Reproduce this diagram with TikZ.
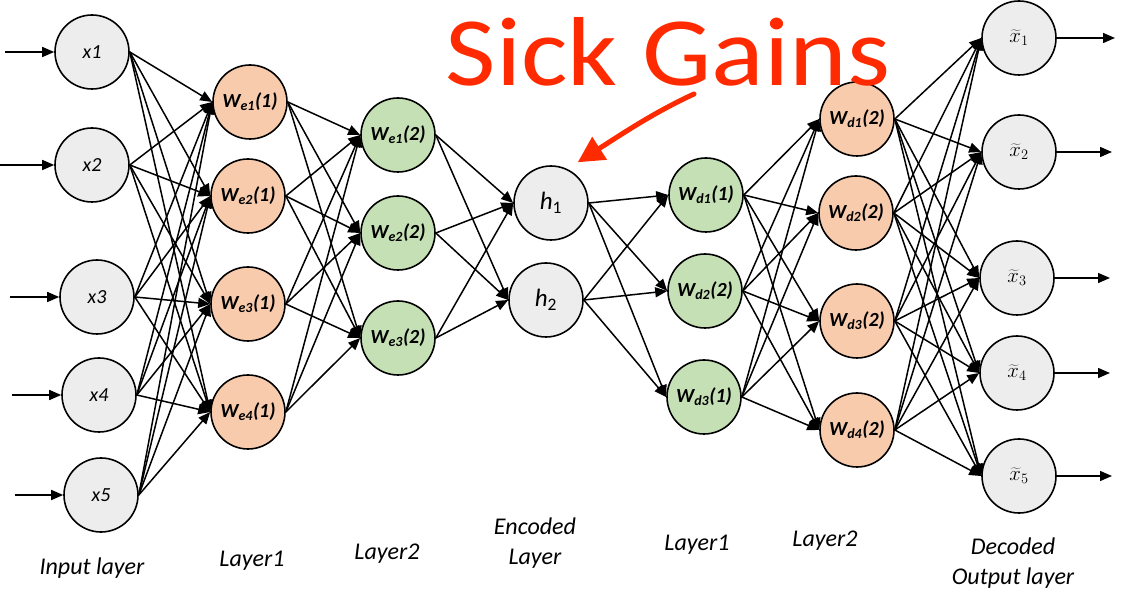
\documentclass[tikz,border=0pt]{standalone}
\usepackage{fontspec}
\setmainfont{Carlito}
\usetikzlibrary{arrows.meta,positioning}
\definecolor{inGray}{HTML}{EDEDED}
\definecolor{encPeach}{HTML}{F8CBAD}
\definecolor{encGreen}{HTML}{C5E0B4}
\definecolor{scribble}{HTML}{FF2A00}

\tikzset{
  neuron/.style={circle, draw, line width=1.6pt, minimum size=74pt, inner sep=0pt,
    font=\fontsize{20}{22}\selectfont\itshape},
  plain/.style={neuron, fill=inGray},
  peach/.style={neuron, fill=encPeach, font=\fontsize{20}{22}\selectfont\bfseries\itshape},
  leaf/.style={neuron, fill=encGreen, font=\fontsize{20}{22}\selectfont\bfseries\itshape},
  link/.style={-{Triangle[length=12pt,width=10pt]}, line width=1.5pt},
  caption/.style={font=\fontsize{24}{30}\selectfont\itshape, align=center}
}

\begin{document}
\begin{tikzpicture}[x=1pt,y=-1pt]
  \useasboundingbox (0,0) rectangle (1128,609);

  \node [plain] (i1) at (92,52) {x1};
  \node [plain] (i2) at (92,165) {x2};
  \node [plain] (i3) at (97,297) {x3};
  \node [plain] (i4) at (99,395) {x4};
  \node [plain] (i5) at (101,495) {x5};

  \node [peach] (a1) at (250,102) {W\textsubscript{e1}(1)};
  \node [peach] (a2) at (248,196) {W\textsubscript{e2}(1)};
  \node [peach] (a3) at (248,304) {W\textsubscript{e3}(1)};
  \node [peach] (a4) at (248,412) {W\textsubscript{e4}(1)};

  \node [leaf] (b1) at (398,135) {W\textsubscript{e1}(2)};
  \node [leaf] (b2) at (398,233) {W\textsubscript{e2}(2)};
  \node [leaf] (b3) at (398,338) {W\textsubscript{e3}(2)};

  \node [plain, font=\fontsize{25}{26}\selectfont] (h1) at (551,203) {\textit{h}\textsubscript{1}};
  \node [plain, font=\fontsize{25}{26}\selectfont] (h2) at (546,300) {\textit{h}\textsubscript{2}};

  \node [leaf] (c1) at (706,195) {W\textsubscript{d1}(1)};
  \node [leaf] (c2) at (705,291) {W\textsubscript{d2}(2)};
  \node [leaf] (c3) at (704,397) {W\textsubscript{d3}(1)};

  \node [peach] (d1) at (857,119) {W\textsubscript{d1}(2)};
  \node [peach] (d2) at (856,213) {W\textsubscript{d2}(2)};
  \node [peach] (d3) at (857,321) {W\textsubscript{d3}(2)};
  \node [peach] (d4) at (857,430) {W\textsubscript{d4}(2)};

  \node [plain, font=\fontsize{22}{24}\selectfont] (o1) at (1019,38) {$\widetilde{x}_1$};
  \node [plain, font=\fontsize{22}{24}\selectfont] (o2) at (1019,152) {$\widetilde{x}_2$};
  \node [plain, font=\fontsize{22}{24}\selectfont] (o3) at (1017,278) {$\widetilde{x}_3$};
  \node [plain, font=\fontsize{22}{24}\selectfont] (o4) at (1017,373) {$\widetilde{x}_4$};
  \node [plain, font=\fontsize{22}{24}\selectfont] (o5) at (1019,476) {$\widetilde{x}_5$};

  \coordinate (in1) at (5,52);
  \coordinate (in2) at (0,165);
  \coordinate (in3) at (10,297);
  \coordinate (in4) at (12,395);
  \coordinate (in5) at (15,495);
  \coordinate (out1) at (1115,38);
  \coordinate (out2) at (1112,152);
  \coordinate (out3) at (1110,278);
  \coordinate (out4) at (1110,373);
  \coordinate (out5) at (1112,476);

  \foreach \k in {1,...,5} {
    \draw [link] (in\k) -- (i\k.west);
    \draw [link] (o\k.east) -- (out\k);
  }

  \foreach \s in {1,...,5} \foreach \t in {1,...,4}
    \draw [link] (i\s.east) -- (a\t.west);
  \foreach \s in {1,...,4} \foreach \t in {1,...,3}
    \draw [link] (a\s.east) -- (b\t.west);
  \foreach \s in {1,...,3} \foreach \t in {1,2}
    \draw [link] (b\s.east) -- (h\t.west);
  \foreach \s in {1,2} \foreach \t in {1,...,3}
    \draw [link] (h\s.east) -- (c\t.west);
  \foreach \s in {1,...,3} \foreach \t in {1,...,4}
    \draw [link] (c\s.east) -- (d\t.west);
  \foreach \s in {1,...,4} \foreach \t in {1,...,5}
    \draw [link] (d\s.east) -- (o\t.west);

  \node [text=scribble, anchor=base, inner sep=0pt, font=\fontsize{98}{98}\selectfont] (gains) at (668,86)
    {\scalebox{1.12}[1]{Sick Gains}};
  \coordinate (gainsTail) at (694,94);
  \draw [scribble, line width=5pt, line cap=round, -{Triangle[length=26pt,width=26pt]}]
    (gainsTail) .. controls (655,112) and (625,132) .. ([yshift=14pt]h1.north east);

  \node [caption] (capIn) at (92,568) {Input layer};
  \node [caption] (capA) at (252,561) {Layer1};
  \node [caption] (capB) at (387,554) {Layer2};
  \node [caption] (capH) at (535,543) {Encoded\\Layer};
  \node [caption] (capC) at (697,545) {Layer1};
  \node [caption] (capD) at (825,541) {Layer2};
  \node [caption] (capO) at (1013,563) {Decoded\\Output layer};
\end{tikzpicture}
\end{document}
